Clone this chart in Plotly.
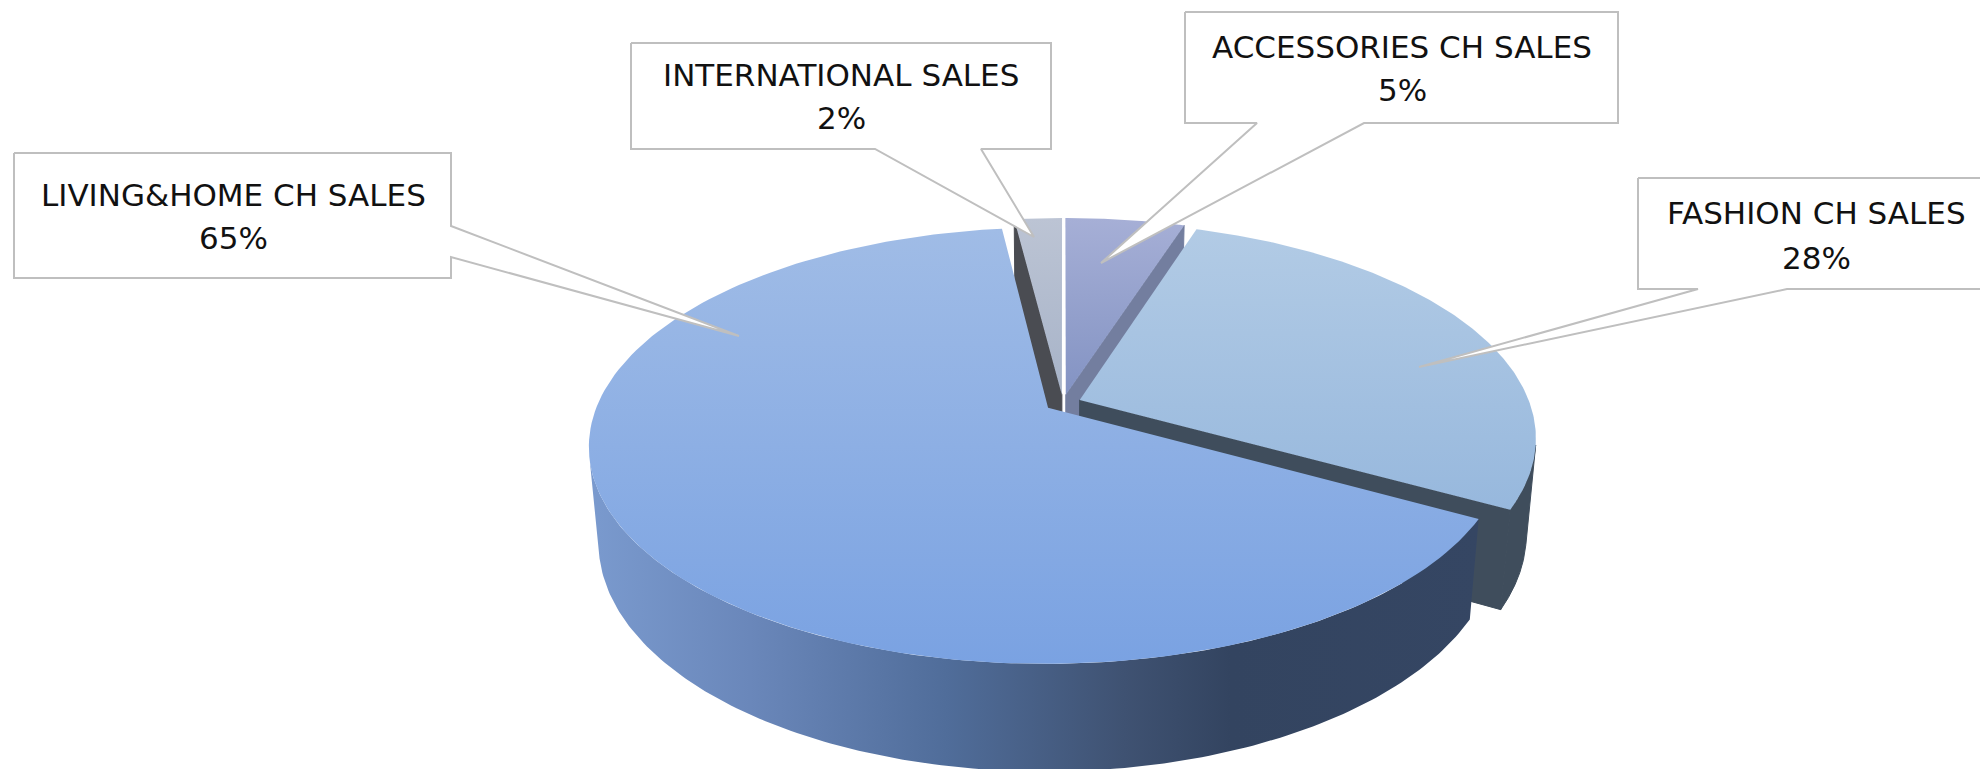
import numpy as np
import plotly.graph_objects as go

# Sales share by channel, clockwise from twelve o'clock
categories = ["ACCESSORIES CH SALES", "FASHION CH SALES", "LIVING&HOME CH SALES", "INTERNATIONAL SALES"]
shares = [5, 28, 65, 2]

# Face colours per slice: (rim-side, near-side)
top_colors = [("#a6afd6", "#8393c3"), ("#b2cbe5", "#97b8dd"), ("#a0bce6", "#7aa2e2"), ("#bcc4d4", "#a7b3c8")]
radial_wall_colors = ["#737e9f", "#3f4d5c", "#3f4d5c", "#4a4c52"]

# Camera model of the tilted disc
CX, CY = 1063.0, 403.0
A, B = 450.0, 210.0
K, M = 0.173, 0.02
DEPTH = 96.0
EXPLODE = 0.04

# Callout text layout: centre x, y of the name line, y of the value line
text_pos = [(1402, 47, 90), (1816, 213, 258), (233, 195, 238), (841, 75, 118)]
FONT = "DejaVu Sans"
FONT_SIZE = 31

# Callout outlines: box corners and pointer, walking clockwise
callouts = [
    [(1185, 12), (1618, 12), (1618, 123), (1364, 123), (1101, 263), (1257, 123), (1185, 123)],
    [(1638, 178), (2000, 178), (2000, 289), (1787, 289), (1419, 367), (1698, 289), (1638, 289)],
    [(14, 153), (451, 153), (451, 226), (739, 336), (451, 257), (451, 278), (14, 278)],
    [(631, 43), (1051, 43), (1051, 149), (981, 149), (1034, 237), (875, 149), (631, 149)],
]


def project(px, py, d=0.0):
    w = 1 + K * py + M * d
    return CX + A * px / w, CY + (-B * py + DEPTH * d) / w


def slice_frame(start, end):
    mid = np.radians((start + end) / 2)
    return EXPLODE * np.sin(mid), EXPLODE * np.cos(mid)


def rim(start, end, ox, oy, d=0.0):
    t = np.radians(np.linspace(start, end, 160))
    return project(ox + np.sin(t), oy + np.cos(t), d)


def filled(xs, ys, gradient):
    return go.Scatter(
        x=list(xs), y=list(ys), mode="lines", fill="toself", line=dict(width=0),
        fillgradient=gradient, hoverinfo="skip", showlegend=False,
    )


def flat(xs, ys, color):
    return go.Scatter(
        x=list(xs), y=list(ys), mode="lines", fill="toself", line=dict(width=1, color=color),
        fillcolor=color, hoverinfo="skip", showlegend=False,
    )


def top_face(i, start, end):
    ox, oy = slice_frame(start, end)
    rx, ry = rim(start, end, ox, oy)
    ax, ay = project(ox, oy)
    xs = np.r_[ax, rx, ax]
    ys = np.r_[ay, ry, ay]
    return filled(xs, ys, dict(
        type="vertical", start=float(ys.min()), stop=float(ys.max()),
        colorscale=[[0, top_colors[i][0]], [1, top_colors[i][1]]],
    ))


def radial_wall(i, angle, start, end):
    ox, oy = slice_frame(start, end)
    t = np.radians(angle)
    px, py = ox + np.sin(t), oy + np.cos(t)
    x0, y0 = project(ox, oy)
    x1, y1 = project(px, py)
    x2, y2 = project(px, py, 1)
    x3, y3 = project(ox, oy, 1)
    return flat([x0, x1, x2, x3, x0], [y0, y1, y2, y3, y0], radial_wall_colors[i])


def outer_wall(start, end, visible):
    # The rim is walled only between its two tangent points on the near side
    ox, oy = slice_frame(start, end)
    lo, hi = max(start, visible[0]), min(end, visible[1])
    tx, ty = rim(lo, hi, ox, oy)
    bx, by = rim(lo, hi, ox, oy, 1)
    return np.r_[tx, bx[::-1], tx[0]], np.r_[ty, by[::-1], ty[0]]


NEAR_SIDE = (102, 256)

# Slice boundaries in degrees, clockwise from the top
edges = np.cumsum([0] + shares) * 360.0 / sum(shares)
spans = list(zip(edges[:-1], edges[1:]))
ACC, FASH, LIVING, INTL = 0, 1, 2, 3

fig = go.Figure()

# Rear slices first, nearest slice last so it hides what sits behind it
fig.add_trace(radial_wall(INTL, spans[INTL][0], *spans[INTL]))
fig.add_trace(top_face(INTL, *spans[INTL]))
fig.add_trace(radial_wall(ACC, spans[ACC][1], *spans[ACC]))
fig.add_trace(top_face(ACC, *spans[ACC]))

xs, ys = outer_wall(*spans[FASH], NEAR_SIDE)
fig.add_trace(flat(xs, ys, radial_wall_colors[FASH]))
fig.add_trace(radial_wall(FASH, spans[FASH][1], *spans[FASH]))
fig.add_trace(top_face(FASH, *spans[FASH]))

xs, ys = outer_wall(*spans[LIVING], NEAR_SIDE)
fig.add_trace(filled(xs, ys, dict(
    type="horizontal", start=590, stop=1480,
    colorscale=[[0, "#7a9ace"], [0.18, "#6a87ba"], [0.4, "#506d9a"], [0.6, "#3f5272"],
                [0.72, "#334460"], [1, "#354663"]],
)))
fig.add_trace(top_face(LIVING, *spans[LIVING]))

# Callouts with their labels
for i, outline in enumerate(callouts):
    px = [p[0] for p in outline] + [outline[0][0]]
    py = [p[1] for p in outline] + [outline[0][1]]
    fig.add_trace(go.Scatter(
        x=px, y=py, mode="lines", fill="toself", fillcolor="white",
        line=dict(color="#bfbfbf", width=2), hoverinfo="skip", showlegend=False,
    ))
    cx, y1, y2 = text_pos[i]
    for text, y in ((categories[i], y1), (f"{shares[i]}%", y2)):
        fig.add_annotation(
            x=cx, y=y, text=text, showarrow=False, xanchor="center", yanchor="middle",
            font=dict(family=FONT, size=FONT_SIZE, color="#111111"),
        )

fig.update_layout(
    width=1980, height=769, autosize=False,
    margin=dict(l=0, r=0, t=0, b=0),
    paper_bgcolor="white", plot_bgcolor="white",
    xaxis=dict(range=[0, 1980], visible=False, fixedrange=True),
    yaxis=dict(range=[769, 0], visible=False, fixedrange=True),
)
fig.write_html("out.html")
